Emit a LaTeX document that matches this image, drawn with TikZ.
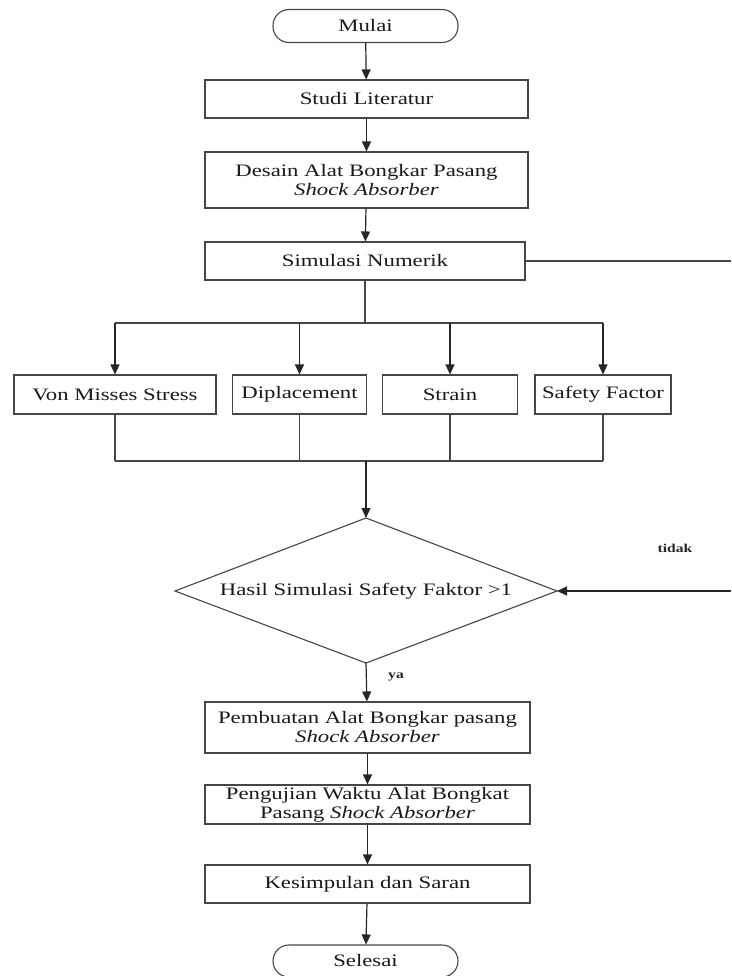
\documentclass[tikz,border=0pt]{standalone}
\usepackage{fontspec}
\setmainfont{Liberation Serif}[FakeStretch=1.3]
\usetikzlibrary{shapes.geometric,arrows.meta}
\begin{document}
\begin{tikzpicture}[x=1pt,y=-1pt,
  base/.style={draw=gray!55!black, line width=1.1pt, fill=white, align=center, inner sep=0pt,
     text=black!90, font=\fontsize{17.5}{19}\selectfont},
  proc/.style={base, rectangle, minimum width=#1},
  proc/.default=323pt,
  term/.style={base, rectangle, rounded corners=16pt, minimum width=185pt, minimum height=33pt},
  txt/.style={align=center, inner sep=0pt, text=black!90, font=\fontsize{17.5}{19}\selectfont},
  arr/.style={-{Triangle[length=10pt,width=9pt]}, line width=1.2pt, draw=black!85},
  ln/.style={line width=1.1pt, draw=gray!55!black},
  lbl/.style={font=\bfseries\fontsize{12}{14}\selectfont, text=black!85}]
\useasboundingbox (0,0) rectangle (731,976);
\fill[white] (0,0) rectangle (731,976);
% main column
\node[term] (mulai) at (365.5,26) {Mulai};
\node[proc, minimum height=38pt] (studi) at (366.5,99) {Studi Literatur};
\node[proc, minimum height=56pt] (desain) at (366.5,180) {Desain Alat Bongkar Pasang\\\textit{Shock Absorber}};
\node[proc=320pt, minimum height=38pt] (sim) at (365,261) {Simulasi Numerik};
% four result boxes
\node[proc=202pt, minimum height=39pt] (von) at (115,394.5) {Von Misses Stress};
\node[proc=134pt, minimum height=39pt] (dipl) at (299.5,394.5) {Diplacement};
\node[proc=135pt, minimum height=39pt] (strain) at (450,394.5) {Strain};
\node[proc=136pt, minimum height=39pt] (safety) at (603,394.5) {Safety Factor};
% decision
\coordinate (decN) at (366,518);
\coordinate (decE) at (557,591);
\coordinate (decS) at (366,663);
\coordinate (decW) at (175,591);
\draw[ln] (decN) -- (decE) -- (decS) -- (decW) -- cycle;
\node[txt] (dec) at (366,591) {Hasil Simulasi Safety Faktor >1};
% lower column
\node[proc=325pt, minimum height=51pt] (pemb) at (367.5,727.5) {Pembuatan Alat Bongkar pasang\\\textit{Shock Absorber}};
\node[proc=325pt, minimum height=39pt] (peng) at (367.5,804.5) {Pengujian Waktu Alat Bongkat\\Pasang \textit{Shock Absorber}};
\node[proc=325pt, minimum height=38pt] (kes) at (367.5,884) {Kesimpulan dan Saran};
\node[term, minimum height=32pt] (selesai) at (365.5,961) {Selesai};
% labels
\node[lbl] (tidak) at (675,548) {tidak};
\node[lbl] (ya) at (396,677) {ya};
% coordinates
\coordinate (top) at (365,323);
\coordinate (topL) at (115,323);
\coordinate (topR) at (603,323);
\coordinate (botL) at (115,461);
\coordinate (botR) at (603,461);
\coordinate (botC) at (366,461);
\coordinate (simR) at (731,261);
\coordinate (decR) at (731,591);
% connectors
\draw[arr] (mulai) -- (studi);
\draw[arr] (studi) -- (desain);
\draw[arr] (desain) -- (sim);
\draw[ln] (sim.south) -- (top);
\draw[ln] (topL) -- (topR);
\draw[arr] (topL) -- (von.north);
\draw[arr] (top -| dipl.north) -- (dipl.north);
\draw[arr] (top -| strain.north) -- (strain.north);
\draw[arr] (topR) -- (safety.north);
\draw[ln] (von.south) -- (botL);
\draw[ln] (dipl.south) -- (botC -| dipl.south);
\draw[ln] (strain.south) -- (botC -| strain.south);
\draw[ln] (safety.south) -- (botR);
\draw[ln] (botL) -- (botR);
\draw[arr] (botC) -- (decN);
\draw[ln] (sim.east |- simR) -- (simR);
\draw[arr] (decR) -- (decE);
\draw[arr] (decS) -- (pemb);
\draw[arr] (pemb) -- (peng);
\draw[arr] (peng) -- (kes);
\draw[arr] (kes) -- (selesai);
\end{tikzpicture}
\end{document}
